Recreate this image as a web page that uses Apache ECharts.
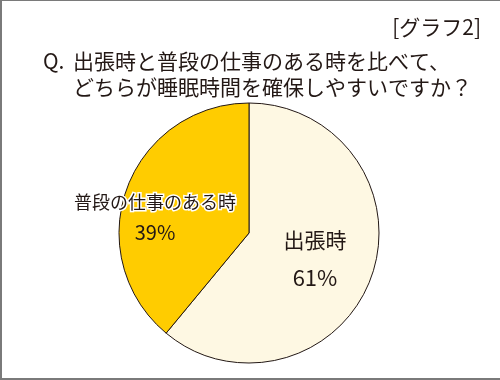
<!DOCTYPE html>
<html><head><meta charset="utf-8">
<script src="https://cdn.jsdelivr.net/npm/echarts@6/dist/echarts.min.js"></script>
<style>html,body{margin:0;padding:0;background:#fff}#c{width:500px;height:380px}</style>
</head><body><div id="c"></div>
<script>
const categories = ['出張時', '普段の仕事のある時'];
const values = [61, 39];
const colors = ['#FEF8E3', '#FFCC00'];
const chartTag = '[グラフ2]';
const questionLines = ['出張時と普段の仕事のある時を比べて、', 'どちらが睡眠時間を確保しやすいですか？'];

const FONT = '"Noto Sans CJK JP", "Noto Sans", sans-serif';
const chart = echarts.init(document.getElementById('c'), null, {renderer: 'canvas'});

const labelCfg = [
  {offset: [2, 3], rich: {n: {fontSize: 21, lineHeight: 38, color: '#231815', fontFamily: FONT}, p: {fontSize: 22, lineHeight: 38, color: '#231815', fontFamily: FONT}}},
  {offset: [-30, 7], rich: {n: {fontSize: 18, lineHeight: 30, color: '#231815', fontFamily: FONT, textBorderColor: '#fff', textBorderWidth: 3}, p: {fontSize: 20, lineHeight: 30, color: '#231815', fontFamily: FONT}}}
];

chart.setOption({
  animation: false,
  backgroundColor: '#fff',
  graphic: [
    {type: 'rect', shape: {x: 0, y: 0, width: 500, height: 1}, style: {fill: '#7a7a7a'}},
    {type: 'rect', shape: {x: 0, y: 0, width: 2, height: 380}, style: {fill: '#7a7a7a'}},
    {type: 'rect', shape: {x: 0, y: 378, width: 500, height: 2}, style: {fill: '#7a7a7a'}},
    {type: 'text', x: 481, y: 27, style: {text: chartTag, font: '21px ' + FONT, fill: '#231815', textAlign: 'right', textVerticalAlign: 'middle'}},
    {type: 'text', x: 43, y: 61, style: {text: 'Q.', font: '21px ' + FONT, fill: '#231815', textAlign: 'left', textVerticalAlign: 'middle'}},
    {type: 'text', x: 73, y: 61, style: {text: questionLines[0], font: '21px ' + FONT, fill: '#231815', textAlign: 'left', textVerticalAlign: 'middle'}},
    {type: 'text', x: 73, y: 87, style: {text: questionLines[1], font: '21px ' + FONT, fill: '#231815', textAlign: 'left', textVerticalAlign: 'middle'}}
  ],
  series: [{
    type: 'pie',
    center: [249, 233],
    radius: [0, 130],
    startAngle: 90,
    clockwise: true,
    avoidLabelOverlap: false,
    emphasis: {disabled: true},
    itemStyle: {borderColor: '#231815', borderWidth: 1},
    label: {show: true, position: 'inside', formatter: '{n|{b}}\n{p|{d}%}', align: 'center'},
    labelLine: {show: false},
    data: categories.map((c, i) => ({
      name: c, value: values[i],
      itemStyle: {color: colors[i]},
      label: labelCfg[i]
    }))
  }]
});
</script></body></html>
